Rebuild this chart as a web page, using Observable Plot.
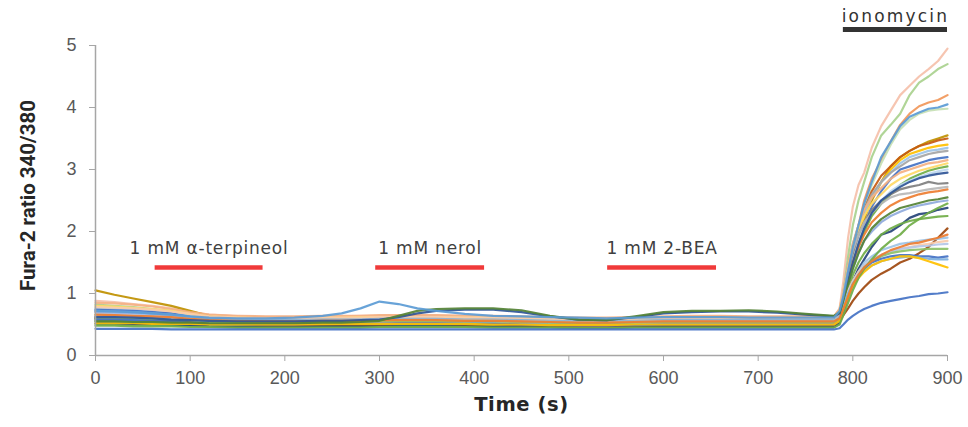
<!DOCTYPE html>
<html>
<head>
<meta charset="utf-8">
<script src="https://cdn.jsdelivr.net/npm/d3@7"></script>
<script src="https://cdn.jsdelivr.net/npm/@observablehq/plot@0.6"></script>
<style>
  html, body { margin: 0; padding: 0; background: #fff; }
  #chart { width: 968px; height: 427px; }
</style>
</head>
<body>
<div id="chart"></div>
<script>
// Sampling times (s) shared by every cell trace
const time = [0,20,40,60,80,100,120,150,180,210,240,260,280,300,320,340,360,390,420,450,480,510,540,570,600,630,660,690,720,750,780,
  786,790,795,800,806,812,820,830,840,850,860,870,880,890,900];

// Fura-2 340/380 ratio of each imaged cell (one row per cell)
const cellRatios = [
  [0.88,0.86,0.83,0.80,0.76,0.70,0.66,0.63,0.62,0.62,0.63,0.63,0.64,0.64,0.65,0.64,0.64,0.64,0.63,0.62,0.61,0.60,0.60,0.61,0.62,0.63,0.63,0.62,0.62,0.62,0.62,
   0.75,1.2,1.9,2.4,2.75,2.95,3.35,3.7,3.95,4.2,4.35,4.5,4.62,4.75,4.95],
  [0.82,0.80,0.78,0.75,0.72,0.66,0.62,0.59,0.58,0.58,0.59,0.59,0.60,0.60,0.61,0.60,0.61,0.60,0.60,0.59,0.58,0.57,0.57,0.58,0.59,0.60,0.60,0.59,0.59,0.59,0.59,
   0.7,1.0,1.6,2.1,2.5,2.8,3.2,3.55,3.72,3.9,4.2,4.4,4.5,4.62,4.7],
  [0.70,0.69,0.68,0.66,0.64,0.60,0.58,0.56,0.56,0.56,0.57,0.57,0.57,0.58,0.58,0.58,0.58,0.58,0.57,0.57,0.56,0.55,0.55,0.56,0.57,0.57,0.57,0.57,0.56,0.56,0.56,
   0.68,0.9,1.3,1.7,2.1,2.5,2.85,3.15,3.45,3.72,3.9,4.02,4.08,4.12,4.2],
  [0.78,0.77,0.75,0.73,0.70,0.65,0.62,0.60,0.60,0.60,0.61,0.61,0.62,0.62,0.62,0.62,0.62,0.61,0.61,0.60,0.59,0.58,0.58,0.59,0.60,0.61,0.61,0.60,0.60,0.60,0.60,
   0.7,0.95,1.3,1.7,2.05,2.4,2.75,3.1,3.4,3.65,3.8,3.9,3.95,3.97,3.98],
  [1.05,0.98,0.92,0.86,0.80,0.72,0.64,0.60,0.59,0.58,0.58,0.58,0.59,0.59,0.59,0.59,0.59,0.58,0.58,0.57,0.56,0.55,0.55,0.56,0.57,0.57,0.57,0.57,0.56,0.56,0.56,
   0.65,0.85,1.2,1.55,1.9,2.2,2.5,2.8,3.05,3.2,3.3,3.38,3.45,3.5,3.55],
  [0.60,0.60,0.59,0.58,0.56,0.54,0.52,0.51,0.50,0.50,0.51,0.51,0.51,0.52,0.52,0.52,0.52,0.52,0.51,0.51,0.50,0.49,0.49,0.50,0.51,0.51,0.51,0.51,0.50,0.50,0.50,
   0.62,0.9,1.3,1.65,2.0,2.35,2.65,2.9,3.05,3.2,3.3,3.38,3.42,3.47,3.5],
  [0.66,0.65,0.64,0.63,0.62,0.60,0.58,0.57,0.57,0.57,0.58,0.58,0.58,0.59,0.59,0.59,0.59,0.58,0.58,0.57,0.56,0.55,0.55,0.56,0.57,0.57,0.57,0.57,0.57,0.57,0.57,
   0.66,0.9,1.25,1.6,1.95,2.25,2.55,2.8,3.0,3.15,3.25,3.3,3.35,3.38,3.4],
  [0.76,0.75,0.74,0.72,0.69,0.65,0.61,0.59,0.58,0.58,0.59,0.59,0.59,0.60,0.60,0.60,0.60,0.59,0.59,0.58,0.57,0.56,0.56,0.57,0.58,0.58,0.58,0.58,0.58,0.58,0.58,
   0.7,1.0,1.4,1.75,2.05,2.3,2.55,2.8,2.95,3.1,3.2,3.25,3.3,3.32,3.35],
  [0.62,0.62,0.61,0.60,0.59,0.57,0.55,0.54,0.54,0.54,0.55,0.55,0.55,0.56,0.56,0.56,0.56,0.55,0.55,0.54,0.53,0.52,0.52,0.53,0.54,0.54,0.54,0.54,0.54,0.54,0.54,
   0.66,1.0,1.45,1.8,2.1,2.35,2.6,2.8,2.95,3.05,3.15,3.2,3.25,3.28,3.3],
  [0.74,0.73,0.72,0.70,0.68,0.62,0.56,0.53,0.52,0.52,0.53,0.53,0.53,0.54,0.54,0.54,0.54,0.53,0.53,0.52,0.51,0.50,0.50,0.51,0.52,0.52,0.52,0.52,0.52,0.52,0.52,
   0.6,0.85,1.2,1.5,1.8,2.1,2.4,2.65,2.85,3.0,3.05,3.1,3.15,3.18,3.2],
  [0.85,0.84,0.82,0.79,0.75,0.70,0.66,0.64,0.63,0.63,0.64,0.64,0.64,0.65,0.65,0.65,0.65,0.64,0.64,0.63,0.62,0.61,0.61,0.62,0.63,0.64,0.64,0.63,0.63,0.63,0.63,
   0.75,1.05,1.45,1.8,2.1,2.35,2.55,2.7,2.85,2.95,3.0,3.05,3.1,3.12,3.15],
  [0.80,0.79,0.77,0.75,0.72,0.67,0.63,0.61,0.60,0.60,0.61,0.61,0.62,0.62,0.62,0.62,0.62,0.61,0.61,0.60,0.59,0.58,0.58,0.59,0.60,0.61,0.61,0.60,0.60,0.60,0.60,
   0.72,1.0,1.4,1.75,2.05,2.25,2.45,2.6,2.75,2.85,2.92,2.98,3.02,3.06,3.1],
  [0.50,0.50,0.49,0.49,0.48,0.48,0.47,0.47,0.47,0.47,0.48,0.48,0.48,0.48,0.48,0.48,0.48,0.48,0.47,0.47,0.47,0.46,0.46,0.47,0.47,0.48,0.48,0.48,0.47,0.47,0.47,
   0.55,0.8,1.15,1.45,1.75,2.0,2.25,2.45,2.6,2.75,2.85,2.92,2.98,3.02,3.05],
  [0.68,0.68,0.67,0.66,0.64,0.61,0.58,0.56,0.56,0.56,0.57,0.57,0.57,0.58,0.58,0.58,0.58,0.57,0.57,0.56,0.55,0.54,0.54,0.55,0.56,0.56,0.56,0.56,0.56,0.56,0.56,
   0.65,0.95,1.3,1.6,1.9,2.1,2.3,2.5,2.65,2.75,2.82,2.88,2.93,2.97,3.0],
  [0.58,0.58,0.57,0.57,0.56,0.55,0.53,0.52,0.52,0.52,0.53,0.53,0.53,0.53,0.54,0.54,0.54,0.53,0.53,0.52,0.51,0.50,0.50,0.51,0.52,0.52,0.52,0.52,0.52,0.52,0.52,
   0.62,0.95,1.35,1.65,1.95,2.15,2.35,2.5,2.6,2.68,2.72,2.75,2.8,2.77,2.78],
  [0.64,0.64,0.63,0.62,0.60,0.58,0.55,0.54,0.53,0.53,0.54,0.54,0.54,0.55,0.55,0.55,0.55,0.54,0.54,0.53,0.52,0.51,0.51,0.52,0.53,0.53,0.53,0.53,0.53,0.53,0.53,
   0.6,0.85,1.2,1.5,1.75,1.95,2.15,2.3,2.42,2.5,2.55,2.6,2.63,2.65,2.68],
  [0.70,0.69,0.68,0.66,0.63,0.58,0.54,0.51,0.50,0.50,0.51,0.51,0.51,0.52,0.52,0.52,0.52,0.51,0.51,0.50,0.49,0.48,0.48,0.49,0.50,0.50,0.50,0.50,0.50,0.50,0.50,
   0.58,0.85,1.15,1.4,1.65,1.85,2.0,2.15,2.25,2.32,2.38,2.42,2.45,2.48,2.5],
  [0.52,0.52,0.51,0.51,0.50,0.49,0.47,0.46,0.46,0.46,0.47,0.47,0.47,0.47,0.47,0.47,0.47,0.47,0.46,0.46,0.46,0.45,0.45,0.46,0.46,0.46,0.46,0.46,0.46,0.46,0.46,
   0.52,0.7,0.95,1.2,1.4,1.55,1.75,1.95,2.0,2.1,2.22,2.28,2.3,2.35,2.38],
  [0.56,0.56,0.55,0.55,0.54,0.53,0.51,0.50,0.50,0.50,0.50,0.51,0.51,0.51,0.51,0.51,0.51,0.51,0.50,0.50,0.49,0.48,0.48,0.49,0.50,0.50,0.50,0.50,0.50,0.50,0.50,
   0.58,0.8,1.05,1.3,1.5,1.65,1.8,1.95,2.05,2.12,2.17,2.2,2.22,2.24,2.25],
  [0.60,0.60,0.59,0.58,0.56,0.54,0.51,0.50,0.49,0.49,0.50,0.50,0.50,0.50,0.51,0.51,0.51,0.50,0.50,0.49,0.48,0.47,0.47,0.48,0.49,0.49,0.49,0.49,0.49,0.49,0.49,
   0.55,0.65,0.76,0.88,1.0,1.1,1.22,1.32,1.4,1.5,1.56,1.65,1.75,1.9,2.05],
  [0.62,0.62,0.61,0.60,0.59,0.57,0.55,0.54,0.53,0.53,0.54,0.54,0.54,0.55,0.55,0.55,0.55,0.54,0.54,0.53,0.52,0.51,0.51,0.52,0.53,0.53,0.53,0.53,0.53,0.53,0.53,
   0.6,0.78,1.0,1.2,1.35,1.5,1.6,1.7,1.75,1.8,1.82,1.85,1.87,1.88,1.9],
  [0.78,0.77,0.76,0.74,0.71,0.67,0.63,0.61,0.60,0.60,0.61,0.61,0.61,0.62,0.62,0.62,0.62,0.61,0.61,0.60,0.59,0.58,0.58,0.59,0.60,0.60,0.60,0.60,0.60,0.60,0.60,
   0.66,0.85,1.05,1.2,1.35,1.45,1.55,1.62,1.68,1.72,1.75,1.78,1.8,1.83,1.85],
  [0.66,0.66,0.65,0.64,0.62,0.60,0.57,0.56,0.55,0.55,0.56,0.56,0.56,0.57,0.57,0.57,0.57,0.56,0.56,0.55,0.54,0.53,0.53,0.54,0.55,0.55,0.55,0.55,0.55,0.55,0.55,
   0.62,0.8,1.0,1.18,1.32,1.45,1.55,1.62,1.68,1.72,1.74,1.76,1.77,1.79,1.8],
  [0.60,0.60,0.59,0.59,0.58,0.57,0.55,0.54,0.54,0.54,0.55,0.55,0.55,0.56,0.56,0.56,0.56,0.55,0.55,0.54,0.53,0.52,0.52,0.53,0.54,0.54,0.54,0.54,0.54,0.54,0.54,
   0.6,0.78,0.98,1.15,1.3,1.42,1.52,1.6,1.65,1.68,1.7,1.71,1.72,1.72,1.72],
  [0.58,0.58,0.57,0.56,0.55,0.53,0.51,0.50,0.50,0.50,0.51,0.51,0.51,0.51,0.52,0.52,0.52,0.51,0.51,0.50,0.49,0.48,0.48,0.49,0.50,0.50,0.50,0.50,0.50,0.50,0.50,
   0.56,0.72,0.95,1.12,1.28,1.4,1.5,1.56,1.6,1.62,1.62,1.6,1.6,1.58,1.6],
  [0.72,0.71,0.70,0.68,0.66,0.62,0.59,0.58,0.57,0.57,0.58,0.58,0.58,0.59,0.59,0.59,0.59,0.58,0.58,0.57,0.56,0.55,0.55,0.56,0.57,0.57,0.57,0.57,0.57,0.57,0.57,
   0.63,0.8,1.0,1.15,1.28,1.38,1.45,1.52,1.56,1.58,1.6,1.58,1.56,1.55,1.55],
  [0.52,0.52,0.52,0.51,0.51,0.51,0.50,0.50,0.50,0.50,0.51,0.51,0.51,0.51,0.51,0.51,0.51,0.51,0.50,0.50,0.49,0.49,0.49,0.50,0.50,0.50,0.50,0.50,0.50,0.50,0.50,
   0.56,0.75,0.95,1.12,1.25,1.35,1.45,1.52,1.56,1.6,1.6,1.57,1.52,1.47,1.42],
  [0.64,0.64,0.63,0.62,0.61,0.59,0.57,0.56,0.56,0.56,0.57,0.57,0.57,0.58,0.58,0.58,0.58,0.57,0.57,0.56,0.55,0.54,0.54,0.55,0.56,0.56,0.56,0.56,0.56,0.56,0.56,
   0.68,1.0,1.4,1.7,1.95,2.15,2.3,2.45,2.55,2.6,2.62,2.65,2.68,2.7,2.72],
  [0.48,0.48,0.47,0.47,0.47,0.46,0.46,0.45,0.45,0.45,0.45,0.45,0.45,0.46,0.46,0.46,0.46,0.46,0.45,0.45,0.45,0.44,0.44,0.45,0.45,0.45,0.45,0.45,0.45,0.45,0.45,
   0.5,0.65,0.85,1.05,1.25,1.4,1.55,1.72,1.85,1.95,2.1,2.2,2.3,2.38,2.45],
  [0.66,0.65,0.64,0.63,0.62,0.59,0.57,0.56,0.55,0.55,0.56,0.56,0.56,0.57,0.57,0.57,0.57,0.56,0.56,0.55,0.54,0.53,0.53,0.54,0.55,0.55,0.55,0.55,0.55,0.55,0.55,
   0.6,0.75,0.95,1.15,1.3,1.42,1.52,1.62,1.7,1.75,1.8,1.82,1.86,1.9,1.95],
  [0.62,0.62,0.61,0.60,0.58,0.57,0.56,0.55,0.55,0.55,0.56,0.56,0.57,0.58,0.62,0.68,0.72,0.74,0.74,0.70,0.63,0.58,0.57,0.62,0.68,0.70,0.71,0.71,0.69,0.66,0.63,
   0.68,0.9,1.2,1.5,1.8,2.05,2.3,2.5,2.62,2.72,2.8,2.86,2.9,2.93,2.95],
  [0.55,0.55,0.54,0.54,0.53,0.53,0.52,0.52,0.52,0.52,0.53,0.53,0.54,0.56,0.64,0.72,0.75,0.76,0.76,0.73,0.64,0.58,0.57,0.63,0.70,0.72,0.72,0.73,0.71,0.67,0.64,
   0.7,0.9,1.15,1.4,1.65,1.85,2.05,2.2,2.3,2.38,2.42,2.46,2.5,2.52,2.55],
  [0.72,0.71,0.70,0.68,0.66,0.63,0.61,0.60,0.60,0.61,0.64,0.68,0.76,0.87,0.83,0.76,0.72,0.67,0.64,0.63,0.62,0.61,0.60,0.61,0.62,0.62,0.62,0.61,0.61,0.61,0.61,
   0.72,0.95,1.35,1.75,2.1,2.45,2.8,3.2,3.45,3.7,3.85,3.92,3.98,4.0,4.05],
  [0.43,0.43,0.43,0.43,0.42,0.42,0.42,0.42,0.42,0.42,0.42,0.42,0.42,0.42,0.42,0.42,0.42,0.42,0.42,0.42,0.42,0.42,0.42,0.42,0.42,0.42,0.42,0.42,0.42,0.42,0.42,
   0.44,0.5,0.58,0.64,0.7,0.75,0.8,0.85,0.88,0.91,0.94,0.96,0.99,1.0,1.02]
];

// Line colour of each cell, in the same order
const cellColors = [
  "#F5C0AA","#A9D18E","#F1975A","#C5E0B4","#BF9000","#C55A11","#FFC000","#9DC3E6",
  "#A5A5A5","#4472C4","#F4B183","#FFD966","#70AD47","#BDD7EE","#7F7F7F","#ED7D31",
  "#8FAADC","#264478","#70AD47","#9E480E","#9DC3E6","#F8CBAD","#B4C7E7","#8CC168",
  "#4472C4","#7CAFDD","#FFC000","#B7B7B7","#70AD47","#ED7D31","#2F5597","#548235",
  "#5B9BD5","#4472C4"
];

// Bath applications (s)
const treatments = ["1 mM \u03b1-terpineol", "1 mM nerol", "1 mM 2-BEA"];
const treatStart = [63, 296, 541];
const treatEnd = [177, 411, 656];
const ionoLabel = "ionomycin";
const ionoStart = 790;
const ionoEnd = 900;

const xTicks = [0,100,200,300,400,500,600,700,800,900];
const yTicks = [0,1,2,3,4,5];

// Long-format rows for the line mark
const rows = [];
cellRatios.forEach((vals, c) => {
  vals.forEach((v, j) => rows.push({t: time[j], ratio: v, cell: c}));
});
const bars = treatments.map((name, i) => ({name, start: treatStart[i], end: treatEnd[i], mid: (treatStart[i] + treatEnd[i]) / 2}));
const iono = [{name: ionoLabel, start: ionoStart, end: ionoEnd, mid: (ionoStart + ionoEnd) / 2}];

const chart = Plot.plot({
  width: 968,
  height: 427,
  marginLeft: 95,
  marginRight: 21,
  marginTop: 45,
  marginBottom: 72,
  style: {fontFamily: "'Liberation Sans', Arial, sans-serif", background: "#fff", overflow: "visible"},
  x: {domain: [0, 900]},
  y: {domain: [0, 5]},
  color: {type: "ordinal", domain: d3.range(cellColors.length), range: cellColors},
  marks: [
    Plot.line(rows, {x: "t", y: "ratio", z: "cell", stroke: "cell", strokeWidth: 2.2, strokeOpacity: 0.92, curve: "linear"}),
    Plot.ruleY([0], {x1: 0, x2: 900, stroke: "#a6a6a6", strokeWidth: 1.5}),
    Plot.ruleX([0], {y1: 0, y2: 5, stroke: "#a6a6a6", strokeWidth: 1.5}),
    Plot.axisX({ticks: xTicks, tickFormat: d => String(d), tickSize: 6, tickPadding: 10, stroke: "#a6a6a6", fill: "#595959", fontSize: 18, label: null}),
    Plot.axisY({ticks: yTicks, tickFormat: d => String(d), tickSize: 6, tickPadding: 13, stroke: "#a6a6a6", fill: "#595959", fontSize: 18, label: null}),
    // treatment bars and labels
    Plot.ruleY(bars, {y: 1.42, x1: "start", x2: "end", stroke: "#F03A3A", strokeWidth: 4.5}),
    Plot.text(bars, {x: "mid", y: 1.73, text: "name", fontSize: 17, fill: "#404040", fontFamily: "'DejaVu Sans', sans-serif"}),
    Plot.ruleY(iono, {y: 5.26, x1: "start", x2: "end", stroke: "#333", strokeWidth: 5}),
    Plot.text(iono, {x: "mid", y: 5.46, text: "name", fontSize: 17, fill: "#333", fontFamily: "'DejaVu Sans', sans-serif"}),
    // axis titles
    Plot.text(["Fura-2 ratio 340/380"], {frameAnchor: "left", textAnchor: "middle", dx: -67, dy: -5, rotate: -90, fontSize: 20.5, fontWeight: "bold", fill: "#262626", fontFamily: "Roboto, sans-serif"}),
    Plot.text(["Time (s)"], {frameAnchor: "bottom", dy: 55, fontSize: 19.5, fontWeight: "bold", fill: "#262626", fontFamily: "'DejaVu Sans', sans-serif"})
  ]
});

// Wider tracking on the annotation labels
const spacing = new Map([...treatments.map(t => [t, "0.8px"]), [ionoLabel, "2.2px"], ["Time (s)", "0.6px"]]);
d3.select(chart).selectAll("text").each(function () {
  const s = spacing.get(this.textContent);
  if (s) this.style.letterSpacing = s;
});
document.getElementById("chart").appendChild(chart);
</script>
</body>
</html>
